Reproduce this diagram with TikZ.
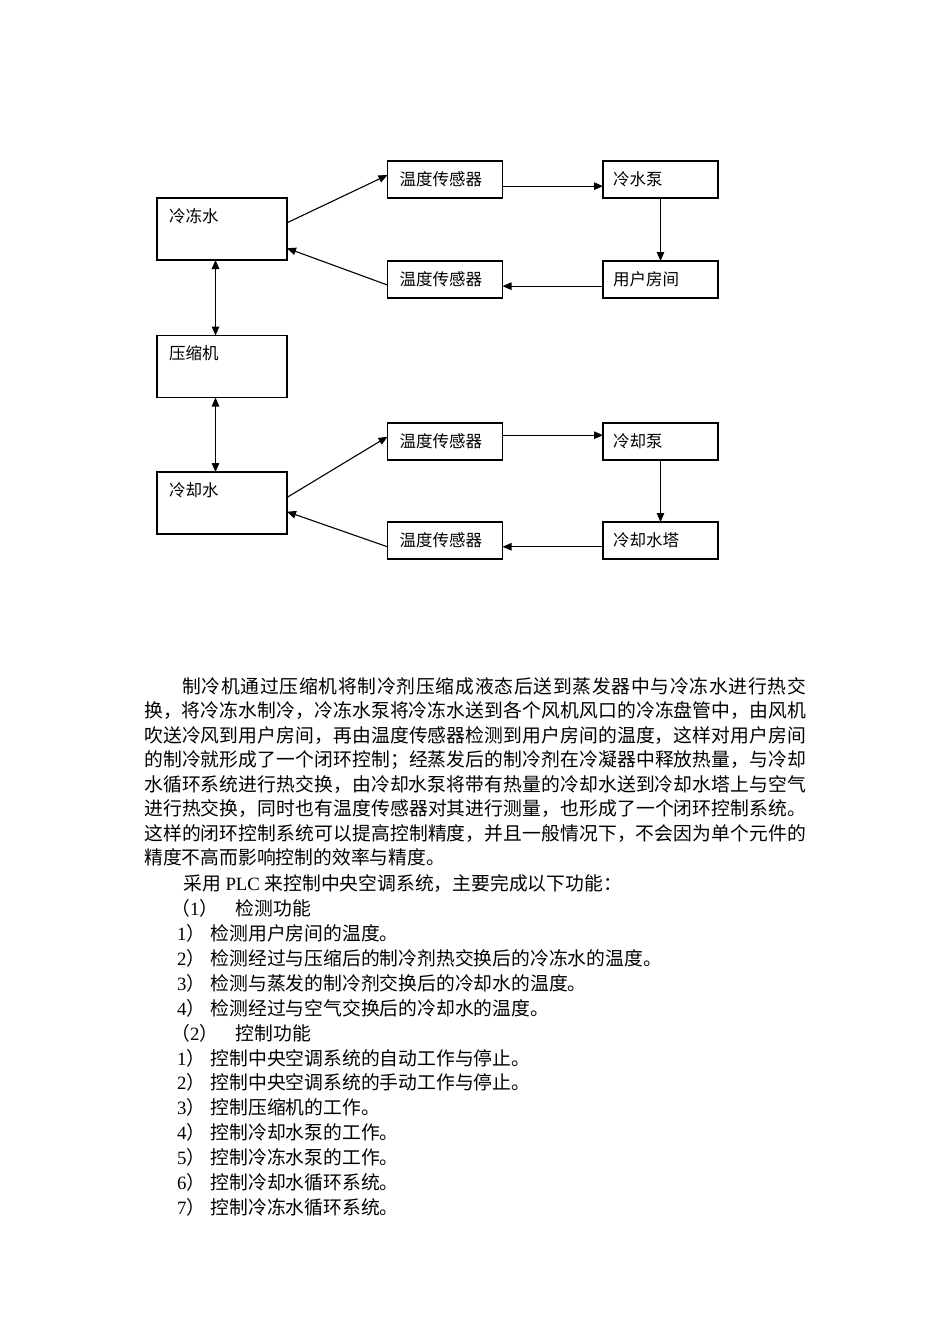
\documentclass[tikz,border=0pt]{standalone}
\usepackage{fontspec}
\setmainfont{Noto Sans CJK SC}
\newfontfamily\lat{Liberation Serif}
\usetikzlibrary{arrows.meta,calc}
\XeTeXlinebreaklocale "zh"
\XeTeXlinebreakskip=0pt plus 2pt
\begin{document}
\begin{tikzpicture}[x=1pt,y=-1pt,
  bx/.style={draw, line width=1.2pt, inner sep=0pt, outer sep=0pt, anchor=north west},
  big/.style={bx, minimum width=130pt, minimum height=62pt},
  small/.style={bx, minimum width=115pt, minimum height=37pt},
  lbl/.style={anchor=base west, inner sep=0pt, font=\fontsize{16.5}{20}\selectfont},
  arr/.style={line width=1.1pt, -{Triangle[length=9pt,width=7.5pt]}},
  darr/.style={line width=1.1pt, {Triangle[length=9pt,width=7.5pt]}-{Triangle[length=9pt,width=7.5pt]}},
  para/.style={anchor=north west, inner sep=0pt, text width=662pt, align=justify,
    font=\fontsize{18.8}{24.45}\selectfont},
  lst/.style={anchor=base west, inner sep=0pt, font=\fontsize{18.8}{24}\selectfont}]
\fill[white] (0,0) rectangle (950,1344);
\path[use as bounding box] (0,0) rectangle (950,1344);

% boxes
\node[big] (lc) at (157,198) {};
\node[big] (cp) at (157,335.5) {};
\node[big] (lq) at (157,472) {};
\node[small] (s1) at (387.5,161) {};
\node[small] (p1) at (603,161) {};
\node[small] (s2) at (387.5,261) {};
\node[small] (r1) at (603,261) {};
\node[small] (s3) at (387.5,423) {};
\node[small] (p2) at (603,423) {};
\node[small] (s4) at (387.5,522) {};
\node[small] (t2) at (603,522) {};

% labels
\node[lbl] (lct) at ($(lc.north west)+(12,24.3)$) {冷冻水};
\node[lbl] (cpt) at ($(cp.north west)+(12,24.3)$) {压缩机};
\node[lbl] (lqt) at ($(lq.north west)+(12,24)$) {冷却水};
\node[lbl] (s1t) at ($(s1.north west)+(12,24.3)$) {温度传感器};
\node[lbl] (p1t) at ($(p1.north west)+(10,24.3)$) {冷水泵};
\node[lbl] (s2t) at ($(s2.north west)+(12,24.3)$) {温度传感器};
\node[lbl] (r1t) at ($(r1.north west)+(10,24.3)$) {用户房间};
\node[lbl] (s3t) at ($(s3.north west)+(12,24.3)$) {温度传感器};
\node[lbl] (p2t) at ($(p2.north west)+(10,24.3)$) {冷却泵};
\node[lbl] (s4t) at ($(s4.north west)+(12,24.3)$) {温度传感器};
\node[lbl] (t2t) at ($(t2.north west)+(10,24.3)$) {冷却水塔};

% upper loop
\coordinate (a1) at ($(lc.north east)!0.4!(lc.south east)$);
\coordinate (b1) at ($(s1.north west)!0.38!(s1.south west)$);
\draw[arr] (a1) -- (b1);
\coordinate (a2) at ($(s1.north east)!0.68!(s1.south east)$);
\coordinate (b2) at ($(p1.north west)!0.68!(p1.south west)$);
\draw[arr] (a2) -- (b2);
\draw[arr] (p1.south) -- (r1.north);
\coordinate (a3) at ($(r1.north west)!0.68!(r1.south west)$);
\coordinate (b3) at ($(s2.north east)!0.68!(s2.south east)$);
\draw[arr] (a3) -- (b3);
\coordinate (a4) at ($(s2.north west)!0.65!(s2.south west)$);
\coordinate (b4) at ($(lc.north east)!0.81!(lc.south east)$);
\draw[arr] (a4) -- (b4);

% compressor links
\coordinate (c1) at ($(lc.south west)!0.45!(lc.south east)$);
\coordinate (c2) at ($(cp.north west)!0.45!(cp.north east)$);
\draw[darr] (c1) -- (c2);
\coordinate (c3) at ($(cp.south west)!0.45!(cp.south east)$);
\coordinate (c4) at ($(lq.north west)!0.45!(lq.north east)$);
\draw[darr] (c3) -- (c4);

% lower loop
\coordinate (e1) at ($(lq.north east)!0.41!(lq.south east)$);
\coordinate (f1) at ($(s3.north west)!0.37!(s3.south west)$);
\draw[arr] (e1) -- (f1);
\coordinate (e2) at ($(s3.north east)!0.33!(s3.south east)$);
\coordinate (f2) at ($(p2.north west)!0.33!(p2.south west)$);
\draw[arr] (e2) -- (f2);
\draw[arr] (p2.south) -- (t2.north);
\coordinate (e3) at ($(t2.north west)!0.67!(t2.south west)$);
\coordinate (f3) at ($(s4.north east)!0.67!(s4.south east)$);
\draw[arr] (e3) -- (f3);
\coordinate (e4) at ($(s4.north west)!0.67!(s4.south west)$);
\coordinate (f4) at ($(lq.north east)!0.64!(lq.south east)$);
\draw[arr] (e4) -- (f4);

% paragraph
\node[para] (txt) at (144,673.2) {\tolerance=10000\parindent=0pt\rule{0pt}{20pt}\hspace*{38pt}制冷机通过压缩机将制冷剂压缩成液态后送到蒸发器中与冷冻水进行热交\linebreak
换，将冷冻水制冷，冷冻水泵将冷冻水送到各个风机风口的冷冻盘管中，由风机\linebreak
吹送冷风到用户房间，再由温度传感器检测到用户房间的温度，这样对用户房间\linebreak
的制冷就形成了一个闭环控制；经蒸发后的制冷剂在冷凝器中释放热量，与冷却\linebreak
水循环系统进行热交换，由冷却水泵将带有热量的冷却水送到冷却水塔上与空气\linebreak
进行热交换，同时也有温度传感器对其进行测量，也形成了一个闭环控制系统。\linebreak
这样的闭环控制系统可以提高控制精度，并且一般情况下，不会因为单个元件的\linebreak
精度不高而影响控制的效率与精度。\par};

% list
\node[lst] (l0) at (183,890.7) {采用{\lat\ PLC\ }来控制中央空调系统，主要完成以下功能：};
\node[lst] (h1) at (171,915.6) {\makebox[64.5pt][l]{（{\lat 1}）}检测功能};
\node[lst] (d1) at (177,940.5) {\makebox[33.5pt][l]{{\lat 1}）}检测用户房间的温度。};
\node[lst] (d2) at (177,965.4) {\makebox[33.5pt][l]{{\lat 2}）}检测经过与压缩后的制冷剂热交换后的冷冻水的温度。};
\node[lst] (d3) at (177,990.3) {\makebox[33.5pt][l]{{\lat 3}）}检测与蒸发的制冷剂交换后的冷却水的温度。};
\node[lst] (d4) at (177,1015.2) {\makebox[33.5pt][l]{{\lat 4}）}检测经过与空气交换后的冷却水的温度。};
\node[lst] (h2) at (171,1040.1) {\makebox[64.5pt][l]{（{\lat 2}）}控制功能};
\node[lst] (k1) at (177,1065.0) {\makebox[33.5pt][l]{{\lat 1}）}控制中央空调系统的自动工作与停止。};
\node[lst] (k2) at (177,1089.9) {\makebox[33.5pt][l]{{\lat 2}）}控制中央空调系统的手动工作与停止。};
\node[lst] (k3) at (177,1114.8) {\makebox[33.5pt][l]{{\lat 3}）}控制压缩机的工作。};
\node[lst] (k4) at (177,1139.7) {\makebox[33.5pt][l]{{\lat 4}）}控制冷却水泵的工作。};
\node[lst] (k5) at (177,1164.6) {\makebox[33.5pt][l]{{\lat 5}）}控制冷冻水泵的工作。};
\node[lst] (k6) at (177,1189.5) {\makebox[33.5pt][l]{{\lat 6}）}控制冷却水循环系统。};
\node[lst] (k7) at (177,1214.4) {\makebox[33.5pt][l]{{\lat 7}）}控制冷冻水循环系统。};
\end{tikzpicture}
\end{document}
